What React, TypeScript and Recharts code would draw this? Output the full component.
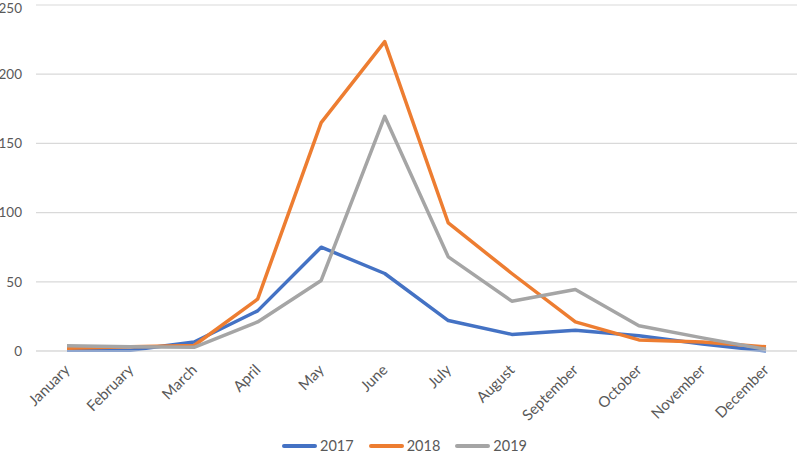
import React from "react";
import { LineChart, Line, XAxis, YAxis, CartesianGrid, Legend } from "recharts";

const months = [
  "January", "February", "March", "April", "May", "June",
  "July", "August", "September", "October", "November", "December",
];
const cases2017 = [0.5, 0.5, 6.5, 29, 75, 56, 22, 12, 15, 11, 5, 0];
const cases2018 = [2, 3, 4, 37.5, 165, 223.5, 92.5, 56, 21, 8, 6.5, 3];
const cases2019 = [3.8, 3, 2.7, 21, 51, 169.5, 68, 36, 44.5, 18.3, 9.5, 1.2];
const yTicks = [0, 50, 100, 150, 200, 250];

const series = [
  { key: "2017", color: "#4472C4", values: cases2017 },
  { key: "2018", color: "#ED7D31", values: cases2018 },
  { key: "2019", color: "#A5A5A5", values: cases2019 },
];

const data = months.map((m, i) => {
  const row: any = { month: m };
  series.forEach((s) => (row[s.key] = s.values[i]));
  return row;
});

const FONT = "Lato, 'Liberation Sans', sans-serif";

function MonthTick({ x, y, payload }: any) {
  return (
    <g transform={`translate(${x + 1},${y + 15})`}>
      <text x={0} y={0} dy={4} textAnchor="end" transform="rotate(-45)" fill="#595959" fontSize={15} fontFamily={FONT}>
        {payload.value}
      </text>
    </g>
  );
}

function LegendBox() {
  return (
    <div style={{ display: "flex", justifyContent: "center", alignItems: "center", height: 30, paddingTop: 15, paddingLeft: 12, boxSizing: "border-box", fontFamily: FONT, fontSize: 14.5, lineHeight: "14px", color: "#595959" }}>
      {series.map((s, i) => (
        <div key={s.key} style={{ display: "flex", alignItems: "center", marginRight: i < series.length - 1 ? 15 : 0 }}>
          <span style={{ display: "inline-block", width: 35, height: 4, borderRadius: 2, background: s.color, marginRight: 3 }} />
          <span>{s.key}</span>
        </div>
      ))}
    </div>
  );
}

export default function App() {
  return (
    <div style={{ position: "absolute", left: 0, top: 0, background: "#fff" }}>
      <LineChart width={797} height={453} data={data} margin={{ top: 5, right: 0, left: 0, bottom: 0 }}>
        <CartesianGrid vertical={false} stroke="#D9D9D9" strokeWidth={1.2} />
        <XAxis
          dataKey="month"
          interval={0}
          tick={<MonthTick />}
          tickLine={false}
          tickSize={0}
          axisLine={{ stroke: "#D9D9D9" }}
          height={72}
          padding={{ left: 31, right: 31 }}
        />
        <YAxis
          width={36}
          domain={[0, 250]}
          ticks={yTicks}
          tickLine={false}
          axisLine={false}
          tickSize={0}
          tickMargin={14}
          tick={{ fill: "#595959", fontSize: 13.5, fontFamily: FONT }}
        />
        <Legend height={30} content={<LegendBox />} />
        {series.map((s) => (
          <Line
            key={s.key}
            dataKey={s.key}
            stroke={s.color}
            strokeWidth={3.5}
            dot={false}
            isAnimationActive={false}
            strokeLinejoin="round"
          />
        ))}
      </LineChart>
    </div>
  );
}
